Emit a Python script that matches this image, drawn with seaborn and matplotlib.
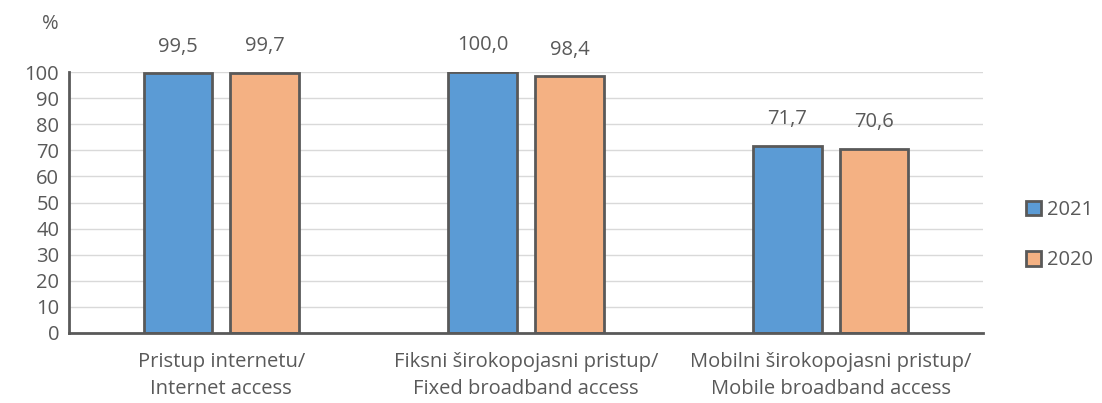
import numpy as np
import pandas as pd
import matplotlib
matplotlib.use("Agg")
import matplotlib.pyplot as plt
import seaborn as sns

categories = ["Pristup internetu/\nInternet access",
              "Fiksni širokopojasni pristup/\nFixed broadband access",
              "Mobilni širokopojasni pristup/\nMobile broadband access"]
years = ["2021", "2020"]
values_2021 = [99.5, 100.0, 71.7]
values_2020 = [99.7, 98.4, 70.6]
yticks = list(range(0, 101, 10))

df = pd.DataFrame({
    "kategorija": categories * 2,
    "godina": [years[0]] * 3 + [years[1]] * 3,
    "vrijednost": values_2021 + values_2020,
})

sns.set_style("white")
plt.rcParams['font.family'] = ['Open Sans', 'DejaVu Sans']
txt = "#595959"
fs = 14.5

fig = plt.figure(figsize=(11.02, 4.03), dpi=100)
ax = fig.add_axes([0.0626, 0.174, 0.8295, 0.647])

sns.barplot(data=df, x="kategorija", y="vrijednost", hue="godina",
            hue_order=years, palette=["#5B9BD5", "#F4B183"], saturation=1,
            width=0.57, gap=0.21, edgecolor="#595959", linewidth=2,
            ax=ax, legend=True)

# oznake vrijednosti iznad stupaca
for cont in ax.containers:
    labels = [f"{v:.1f}".replace(".", ",") for v in cont.datavalues]
    ax.bar_label(cont, labels=labels, padding=12, fontsize=fs, color=txt)

ax.set_ylim(0, 100)
ax.set_xlim(-0.5, 2.5)
ax.set_yticks(yticks)
ax.yaxis.grid(True, color="#D9D9D9", linewidth=1)
ax.set_axisbelow(True)
ax.set_xlabel("")
ax.set_ylabel("")
for s in ["top", "right"]:
    ax.spines[s].set_visible(False)
for s in ["left", "bottom"]:
    ax.spines[s].set_color("#595959")
    ax.spines[s].set_linewidth(2)
ax.tick_params(axis="y", length=0, labelsize=fs, labelcolor=txt, pad=7)
ax.tick_params(axis="x", length=0, labelsize=fs, labelcolor=txt, pad=14)
for t in ax.get_xticklabels():
    t.set_linespacing(1.45)

fig.text(0.046, 0.94, "%", fontsize=fs, color=txt, ha="center", va="center")

leg = ax.legend(loc="center left", bbox_to_anchor=(1.038, 0.375), frameon=False,
                fontsize=fs, labelspacing=1.5, handlelength=0.75,
                handleheight=0.75, handletextpad=0.3, borderaxespad=0)
for t in leg.get_texts():
    t.set_color(txt)

fig.savefig("out.png", dpi=100)
